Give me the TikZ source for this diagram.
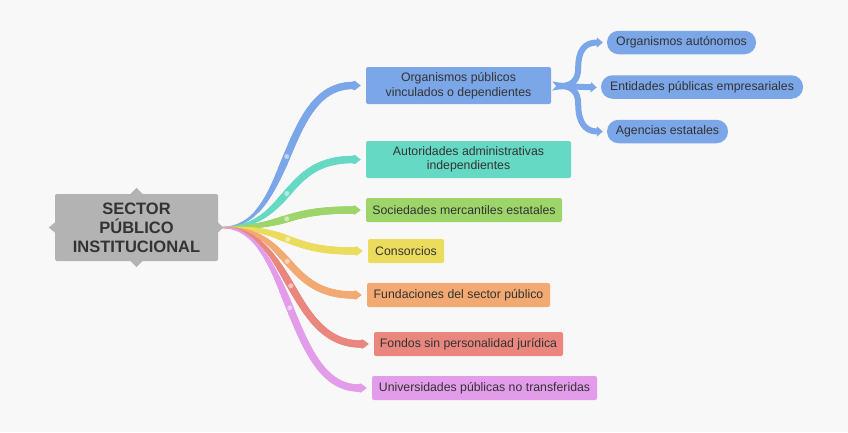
\documentclass[tikz,border=0pt]{standalone}
\usepackage{fontspec}
\setmainfont{Liberation Sans}
\usetikzlibrary{calc,arrows.meta,decorations.markings}
\definecolor{bg}{HTML}{F8F8F8}
\definecolor{txt}{HTML}{333333}
\definecolor{cgray}{HTML}{B3B3B3}
\definecolor{cblue}{HTML}{7BA6E7}
\definecolor{cteal}{HTML}{66D9C4}
\definecolor{cgreen}{HTML}{9DD56A}
\definecolor{cyellow}{HTML}{EBDC5E}
\definecolor{corange}{HTML}{F2A972}
\definecolor{cred}{HTML}{E9877E}
\definecolor{cpurple}{HTML}{E29CEA}
\tikzset{taper/.style={decoration={markings,
   mark=between positions 0 and 1 step 0.8pt with {%
     \pgfmathsetmacro\rr{0.7+3.0*min(1,\pgfkeysvalueof{/pgf/decoration/mark info/distance from start}/(0.45*\pgfdecoratedpathlength))}%
     \fill[#1] (0,0) circle[radius=\rr pt];}}, decorate}}
\newcommand\branchto[2]{% colour, target node
  \path[taper=#1] (hub) .. controls ($(hub)+(70,0)$) and ($(#2.west)+(-85,0)$) .. ($(#2.west)+(-13,0)$);
  \fill[#1] ($(#2.west)+(-14,-3.7)$) -- ($(#2.west)+(-11,-4.6)$) -- ($(#2.west)+(-5,0)$) -- ($(#2.west)+(-11,4.6)$) -- ($(#2.west)+(-14,3.7)$) -- cycle;
  \path (hub) .. controls ($(hub)+(70,0)$) and ($(#2.west)+(-85,0)$) .. ($(#2.west)+(-13,0)$)
     node[pos=0.5, circle, fill=white, fill opacity=0.5, inner sep=0pt, minimum size=5pt] {};
}
\begin{document}
\begin{tikzpicture}[x=1pt,y=-1pt,
  every node/.style={font=\fontsize{12.3}{14.5}\selectfont, text=txt},
  box/.style={rounded corners=2pt, minimum height=24pt, inner sep=0pt, align=center},
  pill/.style={rounded corners=11.5pt, minimum height=23.5pt, inner sep=0pt, fill=cblue},
  bracew/.style={draw=cblue, line width=6pt, line cap=butt}]
\fill[bg] (0,0) rectangle (848,432);
\useasboundingbox (0,0) rectangle (848,432);

% nodes
\node[box, fill=cgray, minimum width=163pt, minimum height=67pt,
      font=\fontsize{16.5}{19}\selectfont\bfseries] (ctr) at (136.5,227.5) {SECTOR\\PÚBLICO\\INSTITUCIONAL};
\fill[cgray] ($(ctr.west)+(0,-5)$) -- ($(ctr.west)+(-6,0)$) -- ($(ctr.west)+(0,5)$) -- cycle;
\fill[cgray] ($(ctr.north)+(-6,0)$) -- ($(ctr.north)+(0,-6)$) -- ($(ctr.north)+(6,0)$) -- cycle;
\fill[cgray] ($(ctr.south)+(-6,0)$) -- ($(ctr.south)+(0,6)$) -- ($(ctr.south)+(6,0)$) -- cycle;
\fill[cgray] ($(ctr.east)+(0,-5)$) -- ($(ctr.east)+(5,0)$) -- ($(ctr.east)+(0,5)$) -- cycle;
\coordinate (hub) at ($(ctr.east)+(4,0)$);

\node[box, fill=cblue, minimum width=185pt, minimum height=37pt] (org) at (458.5,85.5) {Organismos públicos\\vinculados o dependientes};
\node[box, fill=cteal, minimum width=205pt, minimum height=37pt] (aut) at (468.5,159.5) {Autoridades administrativas\\independientes};
\node[box, fill=cgreen, minimum width=196pt] (soc) at (464,210) {Sociedades mercantiles estatales};
\node[box, fill=cyellow, minimum width=76pt] (con) at (406,251) {Consorcios};
\node[box, fill=corange, minimum width=183pt] (fun) at (458.5,295) {Fundaciones del sector público};
\node[box, fill=cred, minimum width=189pt] (fon) at (468.5,344) {Fondos sin personalidad jurídica};
\node[box, fill=cpurple, minimum width=225pt] (uni) at (484.5,388) {Universidades públicas no transferidas};

\node[pill, minimum width=149pt] (oa) at (681.5,42.5) {Organismos autónomos};
\node[pill, minimum width=202pt] (epe) at (702,87) {Entidades públicas empresariales};
\node[pill, minimum width=121pt] (ae) at (667.5,131.5) {Agencias estatales};

% branches
\branchto{cblue}{org}
\branchto{cteal}{aut}
\branchto{cgreen}{soc}
\branchto{cyellow}{con}
\branchto{corange}{fun}
\branchto{cred}{fon}
\branchto{cpurple}{uni}

% brace
\coordinate (bj) at ($(org.east)+(9,0.5)$);
\fill[cblue] ($(org.east)+(1,-4)$) -- ($(bj)+(2,-3)$) -- ($(bj)+(2,3)$) -- ($(org.east)+(1,5)$) -- ($(org.east)+(5,0.5)$) -- cycle;
\draw[bracew, -{Triangle[length=6pt,width=10pt]}] (bj) -- ($(epe.west)+(-4,0.5)$);
\draw[bracew, -{Triangle[length=6pt,width=10pt]}] (bj) .. controls ($(bj)+(12,0)$) and ($(bj)+(18,-6)$) .. ($(bj)+(18,-18)$)
   .. controls ($(bj)+(18,-36)$) and ($(oa.west)+(-22,0)$) .. ($(oa.west)+(-4,0)$);
\draw[bracew, -{Triangle[length=6pt,width=10pt]}] (bj) .. controls ($(bj)+(12,0)$) and ($(bj)+(18,6)$) .. ($(bj)+(18,18)$)
   .. controls ($(bj)+(18,36)$) and ($(ae.west)+(-22,0)$) .. ($(ae.west)+(-4,0)$);
\end{tikzpicture}
\end{document}
